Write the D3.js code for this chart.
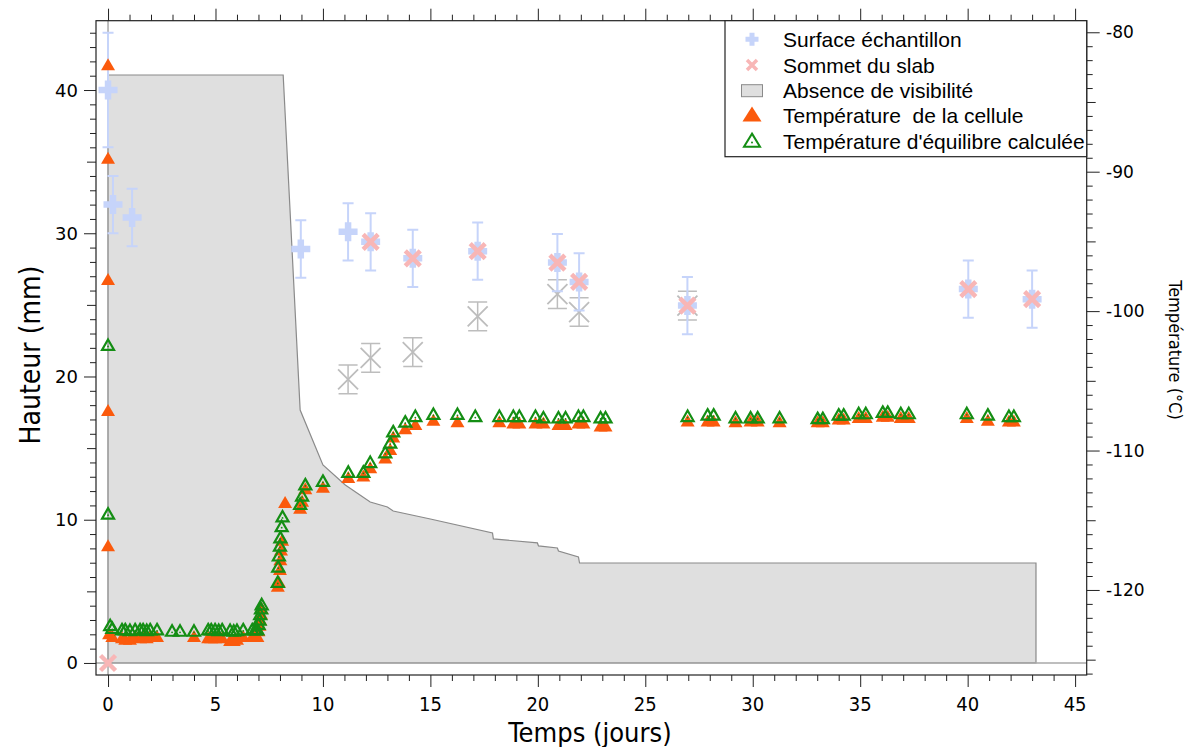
<!DOCTYPE html>
<html>
<head>
<meta charset="utf-8">
<script src="https://cdn.jsdelivr.net/npm/d3@7"></script>
<style>
  body { margin: 0; background: #fff; }
  svg { display: block; }
</style>
</head>
<body>
<script>
// Surface de l'échantillon (mm) avec barres d'erreur
const surfaceTime   = [0, 0.23, 1.12, 8.97, 11.17, 12.22, 14.18, 17.2, 20.91, 21.92, 26.96, 40.03, 43.0];
const surfaceHeight = [40.0, 32.0, 31.1, 28.9, 30.1, 29.4, 28.25, 28.75, 27.95, 26.6, 24.95, 26.1, 25.4];
const surfaceErr    = [4, 2, 2, 2, 2, 2, 2, 2, 2, 2, 2, 2, 2];

// Sommet du slab
const slabTime   = [0, 12.22, 14.18, 17.2, 20.91, 21.92, 26.96, 40.03, 43.0];
const slabHeight = [0, 29.4, 28.25, 28.75, 27.95, 26.6, 24.95, 26.1, 25.4];

// Sommet du slab (gris, hors légende)
const slabGreyTime   = [11.17, 12.22, 14.18, 17.2, 20.91, 21.92, 26.96];
const slabGreyHeight = [19.8, 21.3, 21.7, 24.2, 25.75, 24.5, 24.95];
const slabGreyErr    = [1, 1, 1, 1, 1, 1, 1];

// Absence de visibilité
const hiddenTime   = [0, 8.15, 8.94, 10.0, 11.04, 12.2, 13.0, 13.27, 15.0, 17.89, 17.93, 19.98, 20.03, 20.91, 20.96, 21.89, 21.94, 43.18, 43.18, 0];
const hiddenHeight = [41.05, 41.05, 17.66, 13.82, 12.43, 11.24, 10.89, 10.61, 10.05, 9.08, 8.66, 8.38, 8.17, 8.03, 7.82, 7.4, 6.98, 6.98, 0, 0];

// Température de la cellule (°C)
const cellTime = [0, 0, 0, 0, 0, 0.05,
  0.2, 0.65, 0.8, 1.02, 1.26, 1.49, 1.63, 1.8, 1.96, 2.28, 4.0, 4.66, 4.8, 4.98, 5.15, 5.31, 5.68, 5.85, 6.0, 6.29, 6.71, 6.85, 6.95,
  7.0, 7.05, 7.08, 7.12, 7.15,
  7.9, 7.95, 8.0, 8.02, 8.05, 8.1, 8.24,
  8.94, 9.03, 9.18, 10.0, 11.18, 11.88, 12.2, 12.9, 13.13, 13.27, 13.83, 14.3, 15.14, 16.26,
  18.21, 18.86, 19.14, 19.89, 20.26, 20.96, 21.29, 21.89, 22.12, 22.92, 23.15,
  26.97, 27.9, 28.18, 29.2, 29.9, 30.23, 31.25, 33.02, 33.26, 34.0, 34.23, 34.93, 35.26,
  36.05, 36.28, 36.89, 37.26, 39.96, 40.94, 41.92, 42.15];
const cellTemp = [-82.4, -89.1, -97.8, -107.2, -116.9, -123.2,
  -123.4, -123.5, -123.6, -123.6, -123.4, -123.5, -123.4, -123.5, -123.4, -123.4, -123.4, -123.5, -123.5, -123.5, -123.4, -123.5, -123.7, -123.7, -123.6, -123.4, -123.4, -123.4, -123.4,
  -123.0, -122.6, -122.2, -121.8, -121.4,
  -119.8, -119.5, -118.6, -117.9, -117.2, -116.5, -113.8,
  -114.2, -113.7, -112.8, -112.7, -112.0, -111.9, -111.3, -110.6, -110.0, -109.1, -108.5, -108.2, -107.9, -108.0,
  -108.0, -108.1, -108.1, -108.1, -108.1, -108.2, -108.2, -108.1, -108.1, -108.3, -108.3,
  -107.95, -107.95, -107.95, -108.0, -107.95, -107.95, -108.0, -108.0, -108.0, -107.8, -107.8, -107.7, -107.7,
  -107.6, -107.6, -107.7, -107.7, -107.7, -107.9, -107.95, -107.95];

// Température d'équilibre calculée (°C)
const eqTime = [0, 0, 0.1,
  0.2, 0.65, 0.8, 1.02, 1.26, 1.49, 1.63, 1.8, 1.96, 2.28, 2.98, 3.35, 4.0, 4.66, 4.8, 4.98, 5.15, 5.31, 5.68, 5.85, 6.0, 6.29, 6.71, 6.85, 6.95,
  7.0, 7.05, 7.08, 7.12, 7.15,
  7.9, 7.92, 7.95, 8.0, 8.02, 8.08, 8.12,
  8.94, 9.03, 9.18, 10.0, 11.18, 11.88, 12.2, 12.9, 13.13, 13.27, 13.83, 14.3, 15.14, 16.26, 17.09,
  18.21, 18.86, 19.14, 19.89, 20.26, 20.96, 21.29, 21.89, 22.12, 22.92, 23.15,
  26.97, 27.9, 28.18, 29.2, 29.9, 30.23, 31.25, 33.02, 33.26, 34.0, 34.23, 34.93, 35.26,
  36.05, 36.28, 36.89, 37.26, 39.96, 40.94, 41.92, 42.15];
const eqTemp = [-102.5, -114.6, -122.6,
  -122.8, -122.9, -122.9, -122.95, -122.9, -122.9, -122.9, -122.95, -122.9, -122.9, -123.0, -123.0, -123.0, -122.9, -122.9, -122.9, -122.95, -122.9, -122.95, -123.0, -122.95, -122.9, -122.9, -122.9, -122.9,
  -122.5, -122.2, -121.8, -121.4, -121.1,
  -119.5, -118.4, -117.6, -116.9, -116.3, -115.5, -114.8,
  -113.9, -113.3, -112.5, -112.25, -111.6, -111.6, -110.9, -110.2, -109.5, -108.7, -108.0, -107.6, -107.45, -107.45, -107.6,
  -107.6, -107.6, -107.6, -107.6, -107.7, -107.7, -107.7, -107.6, -107.6, -107.7, -107.7,
  -107.6, -107.5, -107.5, -107.7, -107.7, -107.7, -107.7, -107.75, -107.75, -107.5, -107.5, -107.4, -107.4,
  -107.3, -107.3, -107.4, -107.4, -107.4, -107.5, -107.6, -107.6];

const xTickLabels = [0, 5, 10, 15, 20, 25, 30, 35, 40, 45];
const yTickLabels = [0, 10, 20, 30, 40];
const tTickLabels = [-80, -90, -100, -110, -120];
const legendLabels = ["Surface échantillon", "Sommet du slab", "Absence de visibilité",
  "Température  de la cellule", "Température d'équilibre calculée"];

const width = 1186, height = 747;
const frame = {left: 96, right: 1086.7, top: 20.7, bottom: 675};

const colBlue = "#c6d4fa", colPink = "#f8b6b6", colGrey = "#bdbdbd";
const colOrange = "#fb5a0c", colGreen = "#148e14";

const x = d3.scaleLinear().domain([-0.56, 45.54]).range([frame.left, frame.right]);
const y = d3.scaleLinear().domain([-0.84, 44.84]).range([frame.bottom, frame.top]);
const yT = d3.scaleLinear().domain([-126.1, -79.17]).range([frame.bottom, frame.top]);

const svg = d3.select("body").append("svg")
    .attr("width", width)
    .attr("height", height)
    .attr("viewBox", [0, 0, width, height]);

// zone sans visibilité
const hidden = hiddenTime.map((t, i) => [x(t), y(hiddenHeight[i])]);
svg.append("path")
    .attr("d", d3.line()(hidden) + "Z")
    .attr("fill", "#dfdfdf")
    .attr("stroke", "#8a8a8a")
    .attr("stroke-width", 1.2);

// lignes zéro
svg.append("line")
    .attr("x1", x(0)).attr("x2", x(0))
    .attr("y1", frame.top).attr("y2", frame.bottom)
    .attr("stroke", "#a8a8a8").attr("stroke-width", 1.5);
svg.append("line")
    .attr("x1", frame.left).attr("x2", frame.right)
    .attr("y1", y(0)).attr("y2", y(0))
    .attr("stroke", "#a8a8a8").attr("stroke-width", 1.5);

// axes (ticks extérieurs, mineurs tous les 1)
function ticks(axisGen, values, size) {
  return g => g.call(axisGen.tickValues(values).tickSize(size).tickFormat(""))
    .call(g => g.select(".domain").remove())
    .call(g => g.selectAll("line").attr("stroke", "#222"));
}
const xs = d3.range(0, 46);
const ys = d3.range(0, 45);
const ts = d3.range(-126, -79);

svg.append("g").attr("transform", `translate(0,${frame.bottom})`)
    .call(ticks(d3.axisBottom(x), xs.filter(v => v % 5), 6));
svg.append("g").attr("transform", `translate(0,${frame.bottom})`)
    .call(ticks(d3.axisBottom(x), xs.filter(v => v % 5 === 0), 12));
svg.append("g").attr("transform", `translate(0,${frame.top})`)
    .call(ticks(d3.axisTop(x), xs.filter(v => v % 5), 6));
svg.append("g").attr("transform", `translate(0,${frame.top})`)
    .call(ticks(d3.axisTop(x), xs.filter(v => v % 5 === 0), 12));

svg.append("g").attr("transform", `translate(${frame.left},0)`)
    .call(ticks(d3.axisLeft(y), ys.filter(v => v % 5), 6));
svg.append("g").attr("transform", `translate(${frame.left},0)`)
    .call(ticks(d3.axisLeft(y), ys.filter(v => v % 10 === 5), 9));
svg.append("g").attr("transform", `translate(${frame.left},0)`)
    .call(ticks(d3.axisLeft(y), ys.filter(v => v % 10 === 0), 12));

svg.append("g").attr("transform", `translate(${frame.right},0)`)
    .call(ticks(d3.axisRight(yT), ts.filter(v => v % 5), 6));
svg.append("g").attr("transform", `translate(${frame.right},0)`)
    .call(ticks(d3.axisRight(yT), ts.filter(v => v % 10 === -5), 9));
svg.append("g").attr("transform", `translate(${frame.right},0)`)
    .call(ticks(d3.axisRight(yT), ts.filter(v => v % 10 === 0), 13));

// cadre
svg.append("rect")
    .attr("x", frame.left).attr("y", frame.top)
    .attr("width", frame.right - frame.left).attr("height", frame.bottom - frame.top)
    .attr("fill", "none").attr("stroke", "#222").attr("stroke-width", 1.2);

// labels des graduations
svg.append("g")
    .attr("font-family", "'Liberation Sans Narrow', 'DejaVu Sans Condensed', sans-serif")
    .attr("font-size", 20)
    .attr("text-anchor", "middle")
  .selectAll("text").data(xTickLabels).join("text")
    .attr("x", d => x(d)).attr("y", 711)
    .text(d => d);
svg.append("g")
    .attr("font-family", "'DejaVu Sans', sans-serif")
    .attr("font-size", 18)
    .attr("text-anchor", "end")
  .selectAll("text").data(yTickLabels).join("text")
    .attr("x", 78).attr("y", d => y(d)).attr("dy", "0.36em")
    .text(d => d);
svg.append("g")
    .attr("font-family", "'DejaVu Sans', sans-serif")
    .attr("font-size", 17)
    .attr("text-anchor", "start")
  .selectAll("text").data(tTickLabels).join("text")
    .attr("x", 1106).attr("y", d => yT(d)).attr("dy", "0.36em")
    .text(d => d);

// titres des axes
svg.append("text")
    .attr("x", 590).attr("y", 742)
    .attr("text-anchor", "middle")
    .attr("font-family", "'Liberation Sans Narrow', 'DejaVu Sans Condensed', sans-serif")
    .attr("font-size", 27)
    .text("Temps (jours)");
svg.append("text")
    .attr("transform", "translate(30,355) rotate(-90)")
    .attr("text-anchor", "middle").attr("dy", "0.36em")
    .attr("font-family", "'Liberation Sans Narrow', 'DejaVu Sans Condensed', sans-serif")
    .attr("font-size", 28)
    .text("Hauteur (mm)");
svg.append("text")
    .attr("transform", "translate(1175,350) rotate(90)")
    .attr("text-anchor", "middle").attr("dy", "0.36em")
    .attr("font-family", "'Liberation Sans Narrow', 'DejaVu Sans Condensed', sans-serif")
    .attr("font-size", 18)
    .text("Température (°C)");

// marqueurs
const crossPath = s => `M${-s},0H${s}M0,${-s}V${s}`;
const xPath = s => `M${-s},${-s}L${s},${s}M${-s},${s}L${s},${-s}`;
const triPath = (w, h) => `M0,${-h * 0.62}L${w / 2},${h * 0.38}L${-w / 2},${h * 0.38}Z`;

function errorBars(g, times, vals, errs, cap, color, sw) {
  times.forEach((t, i) => {
    const cx = x(t), y0 = y(vals[i] - errs[i]), y1 = y(vals[i] + errs[i]);
    g.append("path")
      .attr("d", `M${cx},${y0}V${y1}M${cx - cap / 2},${y0}H${cx + cap / 2}M${cx - cap / 2},${y1}H${cx + cap / 2}`)
      .attr("stroke", color).attr("stroke-width", sw).attr("fill", "none");
  });
}

// sommet du slab gris
const gGrey = svg.append("g");
errorBars(gGrey, slabGreyTime, slabGreyHeight, slabGreyErr, 19, colGrey, 1.5);
gGrey.selectAll("path.m").data(slabGreyTime).join("path")
    .attr("class", "m")
    .attr("transform", (t, i) => `translate(${x(t)},${y(slabGreyHeight[i])})`)
    .attr("d", xPath(10))
    .attr("stroke", colGrey).attr("stroke-width", 1.8).attr("fill", "none");

// surface échantillon
const gSurf = svg.append("g");
errorBars(gSurf, surfaceTime, surfaceHeight, surfaceErr, 11, colBlue, 2);
gSurf.selectAll("path.m").data(surfaceTime).join("path")
    .attr("class", "m")
    .attr("transform", (t, i) => `translate(${x(t)},${y(surfaceHeight[i])})`)
    .attr("d", crossPath(9.5))
    .attr("stroke", colBlue).attr("stroke-width", 6.5).attr("fill", "none");

// sommet du slab
svg.append("g").selectAll("path").data(slabTime).join("path")
    .attr("transform", (t, i) => `translate(${x(t)},${y(slabHeight[i])})`)
    .attr("d", xPath(7.5))
    .attr("stroke", colPink).attr("stroke-width", 4.5).attr("fill", "none");

// températures
svg.append("g").selectAll("path").data(cellTime).join("path")
    .attr("transform", (t, i) => `translate(${x(t)},${yT(cellTemp[i])})`)
    .attr("d", triPath(14, 12))
    .attr("fill", colOrange);

const gEq = svg.append("g");
gEq.selectAll("path").data(eqTime).join("path")
    .attr("transform", (t, i) => `translate(${x(t)},${yT(eqTemp[i])})`)
    .attr("d", triPath(12, 10.5))
    .attr("fill", "none").attr("stroke", colGreen).attr("stroke-width", 2.2);
gEq.selectAll("circle").data(eqTime).join("circle")
    .attr("cx", t => x(t)).attr("cy", (t, i) => yT(eqTemp[i]) + 0.5)
    .attr("r", 0.9).attr("fill", colGreen);

// légende
const leg = svg.append("g");
leg.append("rect")
    .attr("x", 725).attr("y", frame.top)
    .attr("width", frame.right - 725).attr("height", 156.7 - frame.top)
    .attr("fill", "#fff").attr("stroke", "#222").attr("stroke-width", 1.2);
const rowY = [39.3, 65, 90.7, 115.7, 141.7];
const sx = 752;
leg.append("path").attr("transform", `translate(${sx},${rowY[0]})`)
    .attr("d", crossPath(6.5)).attr("stroke", colBlue).attr("stroke-width", 5).attr("fill", "none");
leg.append("path").attr("transform", `translate(${sx},${rowY[1]})`)
    .attr("d", xPath(5)).attr("stroke", colPink).attr("stroke-width", 3.5).attr("fill", "none");
leg.append("rect").attr("x", sx - 10.5).attr("y", rowY[2] - 6).attr("width", 21).attr("height", 12)
    .attr("fill", "#dfdfdf").attr("stroke", "#8a8a8a").attr("stroke-width", 1);
leg.append("path").attr("transform", `translate(${sx},${rowY[3]})`)
    .attr("d", triPath(19, 15)).attr("fill", colOrange);
leg.append("path").attr("transform", `translate(${sx},${rowY[4]})`)
    .attr("d", triPath(16, 13)).attr("fill", "none").attr("stroke", colGreen).attr("stroke-width", 2);
leg.append("circle").attr("cx", sx).attr("cy", rowY[4] + 0.8).attr("r", 1).attr("fill", colGreen);
leg.selectAll("text").data(legendLabels).join("text")
    .attr("x", 783).attr("y", (d, i) => rowY[i]).attr("dy", "0.36em")
    .attr("font-family", "'Liberation Sans', Arial, sans-serif")
    .attr("font-size", 21)
    .style("white-space", "pre")
    .text(d => d);
</script>
</body>
</html>
